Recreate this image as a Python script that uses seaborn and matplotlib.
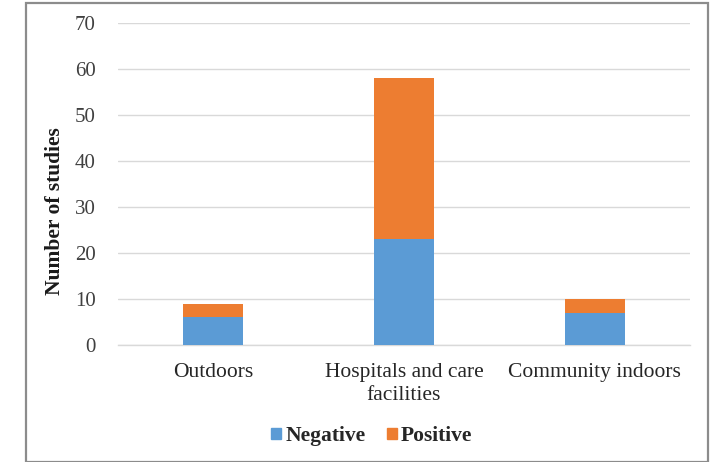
import matplotlib
matplotlib.use("Agg")
import matplotlib.pyplot as plt
import matplotlib.patches as mpatches
import seaborn as sns
import pandas as pd

categories = ["Outdoors", "Hospitals and care\nfacilities", "Community indoors"]
negative = [6, 23, 7]
positive = [3, 35, 3]
y_ticks = [0, 10, 20, 30, 40, 50, 60, 70]

BLUE = "#5B9BD5"
ORANGE = "#ED7D31"

sns.set_theme(style="white")
plt.rcParams["font.family"] = ["Liberation Serif", "DejaVu Serif"]

df = pd.DataFrame({
    "setting": categories,
    "Negative": negative,
    "Positive": positive,
})
df["Total"] = df["Negative"] + df["Positive"]

fig = plt.figure(figsize=(7.18, 4.62), dpi=100)
ax = fig.add_axes([118 / 718, (462 - 345) / 462, (690 - 118) / 718, (345 - 23) / 462])

# Stacked bars: full height in orange, negative share drawn over it in blue
sns.barplot(data=df, x="setting", y="Total", color=ORANGE, width=0.315,
            saturation=1, linewidth=0, ax=ax, zorder=3)
sns.barplot(data=df, x="setting", y="Negative", color=BLUE, width=0.315,
            saturation=1, linewidth=0, ax=ax, zorder=4)

ax.set_ylim(0, 70)
ax.set_xlim(-0.5, 2.5)
ax.set_yticks(y_ticks)
ax.set_yticklabels([str(t) for t in y_ticks], fontsize=15, color="#404040")
ax.tick_params(axis="x", labelsize=15.5, colors="#262626", length=0, pad=13)
for lbl in ax.get_xticklabels():
    lbl.set_linespacing(1.3)
ax.tick_params(axis="y", length=0, pad=16)
ax.set_xlabel("")
ax.set_ylabel("Number of studies", fontsize=15.5, fontweight="bold", color="#1a1a1a")
ax.yaxis.set_label_coords((65 - 118) / 572, (345 - 211) / 322)

ax.yaxis.grid(True, color="#d9d9d9", linewidth=1.0, zorder=0)
ax.set_axisbelow(True)
for side in ["top", "right", "left"]:
    ax.spines[side].set_visible(False)
ax.spines["bottom"].set_color("#d9d9d9")
ax.spines["bottom"].set_linewidth(1.0)

handles = [mpatches.Patch(color=BLUE, label="Negative"),
           mpatches.Patch(color=ORANGE, label="Positive")]
fig.legend(handles=handles, loc="center", bbox_to_anchor=(372 / 718, 1 - 436 / 462),
           ncol=2, frameon=False, prop={"weight": "bold", "size": 15.5},
           handlelength=0.45, handleheight=0.45, handletextpad=0.2, columnspacing=1.0)

# Chart frame
frame = mpatches.Rectangle((26 / 718, 0.5 / 462), (708 - 26) / 718, (459 - 0.5) / 462,
                           transform=fig.transFigure, fill=False,
                           edgecolor="#8c8c8c", linewidth=1.6)
fig.patches.append(frame)

fig.savefig("out.png", dpi=100)
